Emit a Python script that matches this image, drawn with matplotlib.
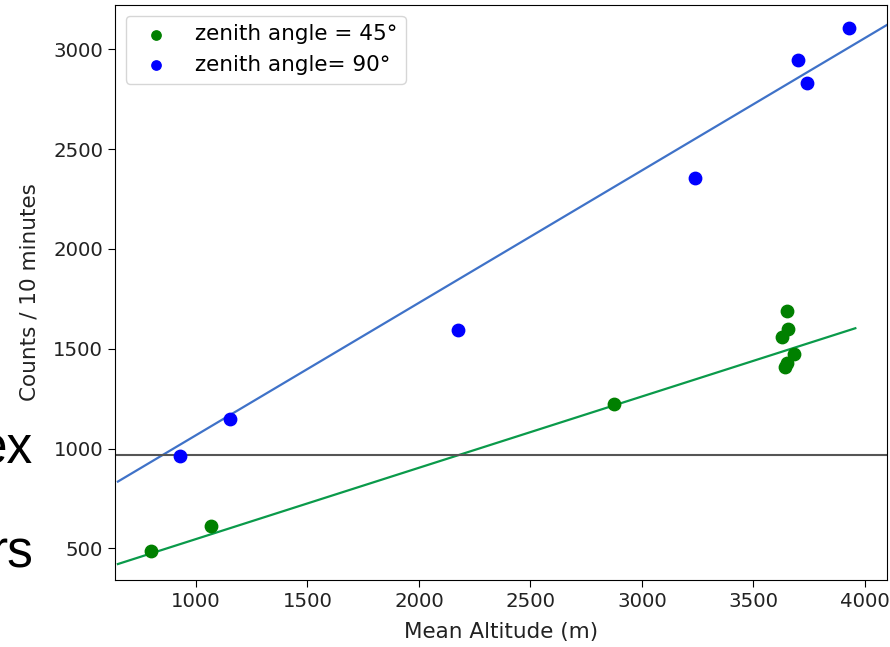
import numpy as np
import matplotlib.pyplot as plt

# zenith angle 45 deg
alt_45 = [799, 1067, 2875, 3651, 3656, 3630, 3680, 3651, 3643]
counts_45 = [485, 610, 1225, 1687, 1600, 1560, 1475, 1428, 1407]

# zenith angle 90 deg
alt_90 = [929, 1152, 2174, 3240, 3698, 3740, 3929]
counts_90 = [963, 1148, 1593, 2357, 2948, 2833, 3105]

# fitted lines (end points)
fit_45_x = [650, 3957]
fit_45_y = [422, 1603]
fit_90_x = [650, 4100]
fit_90_y = [835, 3123]

threshold = 970

plt.rcParams['font.family'] = 'DejaVu Sans'
fig = plt.figure(figsize=(8.9, 6.47), dpi=100)
ax = fig.add_axes([115/890, 67/647, 772/890, 575/647])

ax.scatter(alt_45, counts_45, s=80, color='green', label='zenith angle = 45°', zorder=3)
ax.scatter(alt_90, counts_90, s=80, color='blue', label='zenith angle= 90°', zorder=3)
ax.plot(fit_45_x, fit_45_y, color='#0a9a4a', lw=1.6)
ax.plot(fit_90_x, fit_90_y, color='#3f72c8', lw=1.6)
ax.axhline(threshold, color='#555555', lw=1.5)

ax.set_xlim(637, 4099)
ax.set_ylim(342, 3222)
ax.set_xticks([1000, 1500, 2000, 2500, 3000, 3500, 4000])
ax.set_yticks([500, 1000, 1500, 2000, 2500, 3000])
ax.tick_params(labelsize=14.2, length=5, labelcolor='#222222')
ax.set_xlabel('Mean Altitude (m)', fontsize=15.5, color='#222222', labelpad=8)
ax.set_ylabel('Counts / 10 minutes', fontsize=15.5, color='#222222', labelpad=10)
ax.legend(loc='upper left', fontsize=15.5, markerscale=0.75)

# slide text peeking out on the left
fig.text(33/890, 1 - 463/647, 'ex', ha='right', va='baseline',
         fontsize=37, family='Liberation Sans')
fig.text(33/890, 1 - 568/647, 'rs', ha='right', va='baseline',
         fontsize=37, family='Liberation Sans')

fig.savefig('out.png', dpi=100)
